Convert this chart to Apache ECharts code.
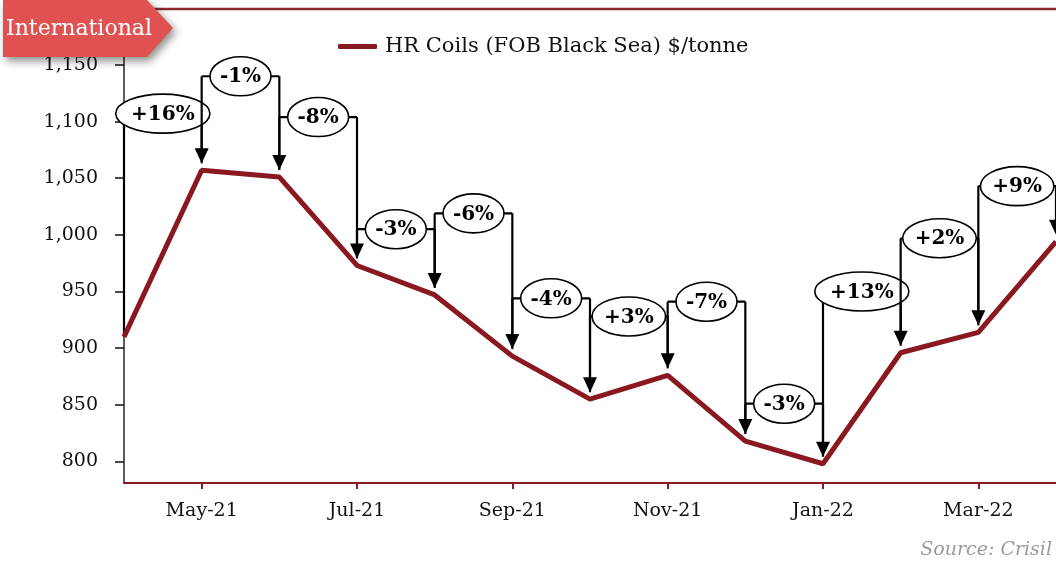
<!DOCTYPE html>
<html><head><meta charset="utf-8">
<script src="https://cdn.jsdelivr.net/npm/echarts@6/dist/echarts.min.js"></script>
<style>html,body{margin:0;padding:0;background:#fff}#c{width:1056px;height:562px}</style>
</head><body><div id="c"></div>
<script>
// ---- data ----
const categories = ['Apr-21','May-21','Jun-21','Jul-21','Aug-21','Sep-21','Oct-21','Nov-21','Dec-21','Jan-22','Feb-22','Mar-22','Apr-22'];
const hrCoils = [910, 1057, 1051, 973, 947, 893, 855, 876, 818, 798, 896, 914, 994];
const changeLabels = [null, '+16%', '-1%', '-8%', '-3%', '-6%', '-4%', '+3%', '-7%', '-3%', '+13%', '+2%', '+9%'];
const annotationLevels = [null, 1107, 1140, 1104, 1005, 1019, 944, 928, 941, 851, 950, 997, 1043];
const yTicks = [800, 850, 900, 950, 1000, 1050, 1100, 1150];
const seriesName = 'HR Coils (FOB Black Sea) $/tonne';

const SERIF = '"DejaVu Serif", "Liberation Serif", serif';
const measureCtx = document.createElement('canvas').getContext('2d');
function textWidth(t, font) { measureCtx.font = font; return measureCtx.measureText(t).width; }
const LABEL_FONT = 'bold 20px ' + SERIF;

const annData = [];
for (let i = 1; i < categories.length; i++) annData.push([i, annotationLevels[i]]);

function renderAnn(params, api) {
  const i = api.value(0);
  const p0 = api.coord([i - 1, hrCoils[i - 1]]);
  const p1 = api.coord([i, hrCoils[i]]);
  const yl = api.coord([i, annotationLevels[i]])[1];
  const x0 = p0[0], x1 = p1[0];
  const gap = 7, head = 15, hw = 7;
  const tip = p1[1] - gap;
  const lineStyle = { stroke: '#000', lineWidth: 2.2 };
  const leftEnd = i === 1 ? p0[1] : p0[1] - gap;
  const label = changeLabels[i];
  const tw = textWidth(label, LABEL_FONT);
  return {
    type: 'group',
    children: [
      { type: 'line', shape: { x1: x0, y1: yl, x2: x0, y2: leftEnd }, style: lineStyle },
      { type: 'line', shape: { x1: x0, y1: yl, x2: x1, y2: yl }, style: lineStyle },
      { type: 'line', shape: { x1: x1, y1: yl, x2: x1, y2: tip - head + 2 }, style: lineStyle },
      { type: 'polygon', shape: { points: [[x1 - hw, tip - head], [x1 + hw, tip - head], [x1, tip]] }, style: { fill: '#000' } },
      { type: 'ellipse', shape: { cx: (x0 + x1) / 2, cy: yl, rx: tw * 0.74, ry: 19.5 }, style: { fill: '#fff', stroke: '#000', lineWidth: 1.6 } },
      { type: 'text', x: (x0 + x1) / 2, y: yl + 1, style: { text: label, font: LABEL_FONT, fill: '#000', align: 'center', verticalAlign: 'middle' } }
    ]
  };
}

const chart = echarts.init(document.getElementById('c'), null, { renderer: 'canvas' });
chart.setOption({
  animation: false,
  backgroundColor: '#fff',
  grid: { left: 124, right: -2, top: 57, bottom: 79, containLabel: false },
  legend: {
    left: 333, top: 31,
    data: [{ name: seriesName, icon: 'roundRect' }],
    itemWidth: 39, itemHeight: 5,
    textStyle: { fontFamily: SERIF, fontSize: 21, color: '#111', padding: [0, 0, 0, 3] }
  },
  xAxis: {
    type: 'category', data: categories, boundaryGap: false,
    axisLine: { lineStyle: { color: '#8b1a20', width: 2 } },
    axisTick: { show: true, length: 6, interval: (idx) => idx % 2 === 1, lineStyle: { color: '#8b1a20', width: 2 } },
    axisLabel: { interval: (idx) => idx % 2 === 1, fontFamily: SERIF, fontSize: 19, color: '#111', margin: 19 },
    splitLine: { show: false }
  },
  yAxis: {
    type: 'value', min: 781, max: 1157,
    axisLine: { show: true, lineStyle: { color: '#3b1c1c', width: 1.5 } },
    axisTick: { show: true, length: 9, customValues: yTicks, lineStyle: { color: '#111', width: 1.5 } },
    axisLabel: { customValues: yTicks, fontFamily: SERIF, fontSize: 19, color: '#111', margin: 26,
      formatter: (v) => v.toLocaleString('en-US') },
    splitLine: { show: false }
  },
  series: [
    { type: 'custom', name: 'changes', renderItem: renderAnn, data: annData, z: 3, clip: false, silent: true },
    { type: 'line', name: seriesName, data: hrCoils, symbol: 'none', z: 4,
      lineStyle: { color: '#8a1820', width: 5 }, itemStyle: { color: '#8a1820' } }
  ],
  graphic: [
    { type: 'line', z: 10, shape: { x1: 150, y1: 9, x2: 1056, y2: 9 }, style: { stroke: '#8b2a2a', lineWidth: 2.5 } },
    { type: 'polygon', z: 11, shape: { points: [[3, 0], [147, 0], [173, 28], [147, 57], [3, 57]] },
      style: { fill: '#e05252', shadowBlur: 8, shadowColor: 'rgba(0,0,0,0.45)', shadowOffsetX: 3, shadowOffsetY: 4 } },
    { type: 'text', z: 12, left: 6, top: 18, style: { text: 'International', font: '22px ' + SERIF, fill: '#fff' } },
    { type: 'text', z: 12, right: 4, top: 541, style: { text: 'Source: Crisil', font: 'italic 19px ' + SERIF, fill: '#9a9a9a' } }
  ]
});
</script>
</body></html>
